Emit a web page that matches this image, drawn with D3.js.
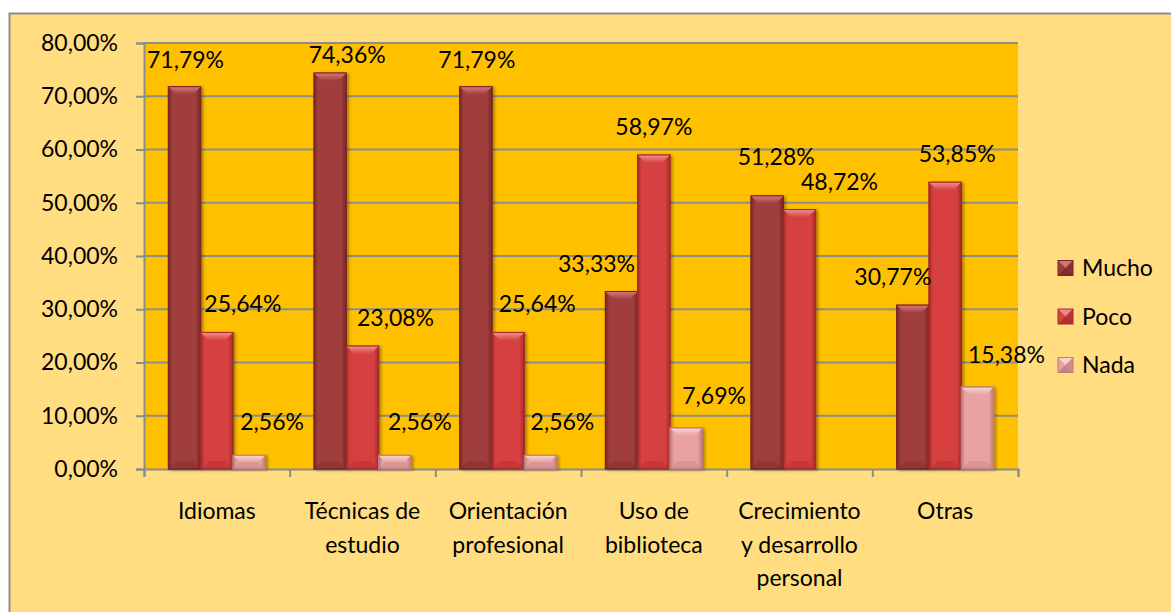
<!DOCTYPE html>
<html>
<head>
<meta charset="utf-8">
<script src="https://cdn.jsdelivr.net/npm/d3@7"></script>
<style>
  html, body { margin: 0; padding: 0; background: #ffffff; }
  svg { display: block; font-family: Lato, "Open Sans", sans-serif; }
</style>
</head>
<body>
<svg id="chart" width="1171" height="612"></svg>
<script>
// ---- data ----
const categories = [
  ["Idiomas"],
  ["Técnicas de", "estudio"],
  ["Orientación", "profesional"],
  ["Uso de", "biblioteca"],
  ["Crecimiento", "y desarrollo", "personal"],
  ["Otras"]
];
const seriesNames = ["Mucho", "Poco", "Nada"];
const mucho = [71.79, 74.36, 71.79, 33.33, 51.28, 30.77];
const poco  = [25.64, 23.08, 25.64, 58.97, 48.72, 53.85];
const nada  = [2.56, 2.56, 2.56, 7.69, null, 15.38];
const yTicks = [0, 10, 20, 30, 40, 50, 60, 70, 80];

// ---- styles ----
const colors = {
  Mucho: { main: "#A03C3C", dark: "#782727", light: "#D77A7A" },
  Poco:  { main: "#D64141", dark: "#A52A2A", light: "#F09090" },
  Nada:  { main: "#E8A2A2", dark: "#BF7A7A", light: "#FAD6D6" }
};
// label placement nudges (pixels), per series and category, mimicking the original layout
const labelShiftX = {
  Mucho: [1, 17, 1, -25, 9, -20],
  Poco:  [26, 33, 29, 0, 40, 12],
  Nada:  [23, 25, 22, 28, 0, 29]
};
const labelShiftY = {
  Mucho: [1, 10, 1, 0, -11, 0],
  Poco:  [0, 0, 0, 0, 0, 0],
  Nada:  [-5, -5, -5, -4, 0, -4]
};
const fontSize = 23;

const svg = d3.select("#chart");
const defs = svg.append("defs");

// outer chart area
svg.append("rect").attr("x", 9.5).attr("y", 13.5).attr("width", 1200).attr("height", 700)
  .attr("fill", "#FFDD80").attr("stroke", "#8C8C8C").attr("stroke-width", 2);

const plot = { left: 144, right: 1018, top: 43, bottom: 469 };

const x0 = d3.scaleBand().domain(d3.range(categories.length))
  .range([plot.left, plot.right]).paddingInner(0).paddingOuter(0);
const x1 = d3.scaleBand().domain(seriesNames).range([0, x0.bandwidth()])
  .paddingInner(0).paddingOuter(0.755);
const y = d3.scaleLinear().domain([0, 80]).range([plot.bottom, plot.top]);

// plot area
svg.append("rect").attr("x", plot.left).attr("y", plot.top)
  .attr("width", plot.right - plot.left).attr("height", plot.bottom - plot.top)
  .attr("fill", "#FFC000");

// gridlines
svg.append("g").selectAll("line").data(yTicks.filter(d => d > 0)).join("line")
  .attr("x1", plot.left).attr("x2", plot.right)
  .attr("y1", d => y(d)).attr("y2", d => y(d))
  .attr("stroke", "#8C8C8C").attr("stroke-width", 2);

// y axis
const yAxis = d3.axisLeft(y).tickValues(yTicks).tickSize(8).tickPadding(18)
  .tickFormat(d => d3.format(".2f")(d).replace(".", ",") + "%");
const gy = svg.append("g").attr("transform", `translate(${plot.left},0)`).call(yAxis);
gy.select(".domain").attr("stroke", "#8C8C8C").attr("stroke-width", 2);
gy.selectAll(".tick line").attr("stroke", "#8C8C8C").attr("stroke-width", 2);
gy.selectAll(".tick text").attr("font-size", fontSize).attr("fill", "#000")
  .attr("font-family", "Lato, sans-serif");

// x axis
const xAxisScale = d3.scaleLinear().domain([0, categories.length]).range([plot.left, plot.right]);
const gx = svg.append("g").attr("transform", `translate(0,${plot.bottom})`)
  .call(d3.axisBottom(xAxisScale).tickValues(d3.range(categories.length + 1)).tickSize(8).tickFormat(""));
gx.select(".domain").attr("stroke", "#8C8C8C").attr("stroke-width", 2);
gx.selectAll(".tick line").attr("stroke", "#8C8C8C").attr("stroke-width", 2);

// category labels
categories.forEach((lines, i) => {
  const t = svg.append("text").attr("text-anchor", "middle")
    .attr("font-size", fontSize).attr("fill", "#000")
    .attr("x", x0(i) + x0.bandwidth() / 2).attr("y", 519);
  lines.forEach((ln, j) => {
    t.append("tspan").attr("x", x0(i) + x0.bandwidth() / 2)
      .attr("dy", j === 0 ? 0 : 33.5).text(ln);
  });
});

// gradients
seriesNames.forEach(s => {
  const c = colors[s];
  const g = defs.append("linearGradient").attr("id", "grad-" + s)
    .attr("x1", "0").attr("x2", "1").attr("y1", "0").attr("y2", "0");
  g.append("stop").attr("offset", "0").attr("stop-color", c.dark);
  g.append("stop").attr("offset", "0.12").attr("stop-color", c.main);
  g.append("stop").attr("offset", "0.85").attr("stop-color", c.main);
  g.append("stop").attr("offset", "1").attr("stop-color", c.dark);
  const t = defs.append("linearGradient").attr("id", "top-" + s)
    .attr("x1", "0").attr("x2", "0").attr("y1", "0").attr("y2", "1");
  t.append("stop").attr("offset", "0").attr("stop-color", c.light);
  t.append("stop").attr("offset", "1").attr("stop-color", c.main);
});
const shadow = defs.append("filter").attr("id", "shadow")
  .attr("x", "-20%").attr("y", "-10%").attr("width", "150%").attr("height", "130%");
shadow.append("feDropShadow").attr("dx", 2).attr("dy", 1).attr("stdDeviation", 1.5)
  .attr("flood-color", "#000").attr("flood-opacity", 0.35);

const seriesData = { Mucho: mucho, Poco: poco, Nada: nada };
const gBars = svg.append("g");
const gLabels = svg.append("g");

seriesNames.forEach(s => {
  const c = colors[s];
  seriesData[s].forEach((v, i) => {
    if (v === null || v === undefined) return;
    const bx = x0(i) + x1(s);
    const bw = x1.bandwidth();
    const by = y(v);
    const bh = y(0) - by;
    const g = gBars.append("g");
    g.append("rect").attr("x", bx).attr("y", by).attr("width", bw).attr("height", bh)
      .attr("fill", `url(#grad-${s})`).attr("stroke", c.dark).attr("stroke-width", 1)
      .attr("filter", "url(#shadow)");
    const bev = Math.min(8, bh / 2);
    g.append("path")
      .attr("d", `M${bx},${by} L${bx + bw},${by} L${bx + bw - bev},${by + bev} L${bx + bev},${by + bev} Z`)
      .attr("fill", `url(#top-${s})`);
    g.append("path")
      .attr("d", `M${bx},${by + bh} L${bx + bw},${by + bh} L${bx + bw - bev},${by + bh - bev} L${bx + bev},${by + bh - bev} Z`)
      .attr("fill", c.dark).attr("opacity", 0.35);
    g.append("rect").attr("x", bx).attr("y", by).attr("width", bw).attr("height", bh)
      .attr("fill", "none").attr("stroke", c.dark).attr("stroke-width", 1);

    gLabels.append("text").attr("text-anchor", "middle")
      .attr("font-size", fontSize).attr("fill", "#000")
      .attr("x", bx + bw / 2 + labelShiftX[s][i]).attr("y", by - 20 + labelShiftY[s][i])
      .text(d3.format(".2f")(v).replace(".", ",") + "%");
  });
});

// legend
const legend = svg.append("g");
seriesNames.forEach((s, i) => {
  const c = colors[s];
  const ly = 268 + i * 48.5;
  const lx = 1058, sz = 15;
  const g = legend.append("g");
  g.append("rect").attr("x", lx).attr("y", ly - sz / 2).attr("width", sz).attr("height", sz)
    .attr("fill", c.main);
  const x0l = lx, y0l = ly - sz / 2;
  g.append("path").attr("d", `M${x0l},${y0l} L${x0l + sz},${y0l} L${x0l + sz / 2},${y0l + sz / 2} Z`)
    .attr("fill", c.light).attr("opacity", 0.9);
  g.append("path").attr("d", `M${x0l + sz},${y0l} L${x0l + sz},${y0l + sz} L${x0l + sz / 2},${y0l + sz / 2} Z`)
    .attr("fill", c.dark).attr("opacity", 0.6);
  g.append("path").attr("d", `M${x0l},${y0l + sz} L${x0l + sz},${y0l + sz} L${x0l + sz / 2},${y0l + sz / 2} Z`)
    .attr("fill", c.dark).attr("opacity", 0.8);
  g.append("rect").attr("x", lx).attr("y", ly - sz / 2).attr("width", sz).attr("height", sz)
    .attr("fill", "none").attr("stroke", c.dark).attr("stroke-width", 1);
  legend.append("text").attr("x", 1082).attr("y", ly + 8)
    .attr("font-size", fontSize).attr("fill", "#000").text(s);
});
</script>
</body>
</html>
